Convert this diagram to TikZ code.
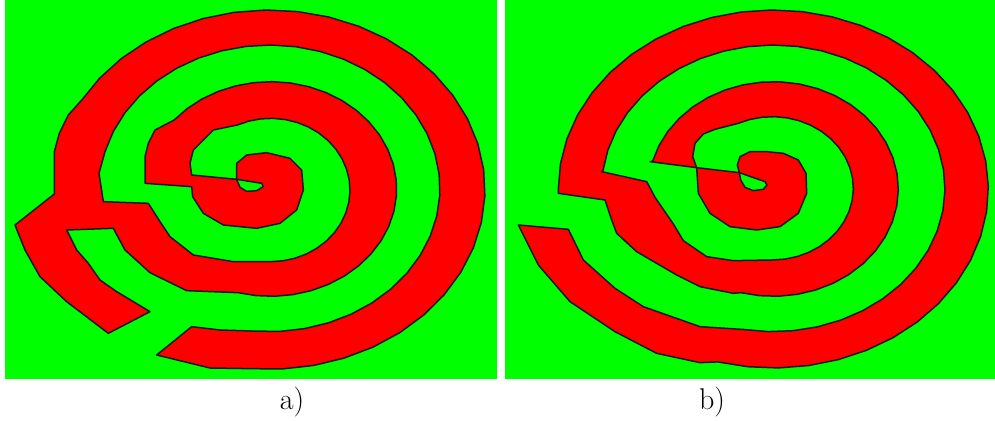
\documentclass[tikz,border=0pt]{standalone}
\definecolor{spgreen}{HTML}{00FF00}
\definecolor{spred}{HTML}{FF0000}
\definecolor{edgeblk}{HTML}{1A1A1A}

\begin{document}
\begin{tikzpicture}[
  x=0.5pt, y=-0.5pt,
  band/.style={fill=spred, draw=edgeblk, line width=0.75pt, line join=round},
  panel/.style={fill=spgreen},
  caption/.style={font=\fontsize{15}{18}\selectfont, anchor=base},
]

% =============================================
% Canvas
% =============================================
\useasboundingbox (0,0) rectangle (995,421);
\fill[white] (0,0) rectangle (995,421);

% =============================================
% Panel a: spiral with a side branch
% =============================================
\fill[panel] (5,0) rectangle (497,379);
\begin{scope}[scale=1/3]
\draw[band] (470,1065) -- (630,1104)
  -- plot[domain=265:510, samples=30] ({807+648*cos(\x)},{569-539*sin(\x)})
  -- (205,345) -- (178,400) -- (163,455) -- (163,582) -- (45,675) -- (75,750) -- (120,830)
  -- (200,905) -- (325,1000)
  -- (450,935) -- (350,875) -- (300,840) -- (265,790) -- (230,750) -- (200,690)
  -- (340,685) -- (375,750) -- (450,818) -- (560,872)
  -- plot[domain=255:500, samples=30] ({812+378*cos(\x)},{567-322*sin(\x)})
  -- (465,390) -- (445,430) -- (435,470) -- (435,550)
  -- (575,560) -- (578,590) -- (610,640) -- (670,675) -- (770,685) -- (840,670)
  -- (890,630) -- (910,570) -- (905,510) -- (870,475) -- (800,458) -- (740,465)
  -- (710,490) -- (710,538)
  -- (785,550) -- (790,560) -- (770,572) -- (740,574) -- (720,562) -- (710,538)
  -- (575,525) -- (570,490) -- (580,450) -- (640,390)
  -- plot[domain=245:450, samples=24] ({812+238*cos(\x)},{570+215*sin(\x)})
  -- (700,785) -- (580,765) -- (510,710) -- (480,665) -- (445,610)
  -- (310,605) -- (297,520)
  -- plot[domain=195:455, samples=32] ({809+511*cos(\x)},{565+430*sin(\x)})
  -- (660,990) -- (575,980) -- cycle;
\end{scope}

% =============================================
% Panel b: plain spiral
% =============================================
\fill[panel] (505,0) rectangle (995,379);
\begin{scope}[shift={(500,0)}, scale=1/3]
% outer and middle turns
\draw[band] (55,675) -- (115,795) -- (210,905) -- (345,995) -- (470,1060) -- (600,1088)
  -- plot[domain=255:540, samples=36] ({820+645*cos(\x)},{567-537*sin(\x)})
  -- (175,580) -- (315,600) -- (335,660) -- (350,700) -- (410,755) -- (530,825)
  -- (600,860) -- (700,880)
  -- plot[domain=255:525, samples=32] ({820+375*cos(\x)},{567-322*sin(\x)})
  -- (450,485) -- (590,503)
  -- (578,470) -- (585,430) -- (610,402) -- (645,388)
  -- plot[domain=245:450, samples=24] ({817+243*cos(\x)},{565+215*sin(\x)})
  -- (700,782) -- (620,770) -- (550,722) -- (520,672) -- (465,592) -- (440,545)
  -- (305,515)
  -- plot[domain=187:460, samples=34] ({820+515*cos(\x)},{565+430*sin(\x)})
  -- (600,980) -- (430,920) -- (345,865) -- (250,780) -- (205,688) -- cycle;
% inner turn with the slot
\draw[band] (590,503) -- (595,580) -- (630,640) -- (690,680) -- (770,690) -- (840,680)
  -- (895,640) -- (920,580) -- (918,520) -- (895,480) -- (850,460) -- (800,455)
  -- (750,455) -- (720,470) -- (712,495) -- (718,518)
  -- (795,545) -- (801,555) -- (790,568) -- (760,572) -- (735,562) -- (722,540)
  -- (718,518) -- cycle;
\end{scope}

% =============================================
% Captions
% =============================================
\node[caption] (lbla) at (292,410) {a)};
\node[caption] (lblb) at (712,410) {b)};

\end{tikzpicture}
\end{document}
